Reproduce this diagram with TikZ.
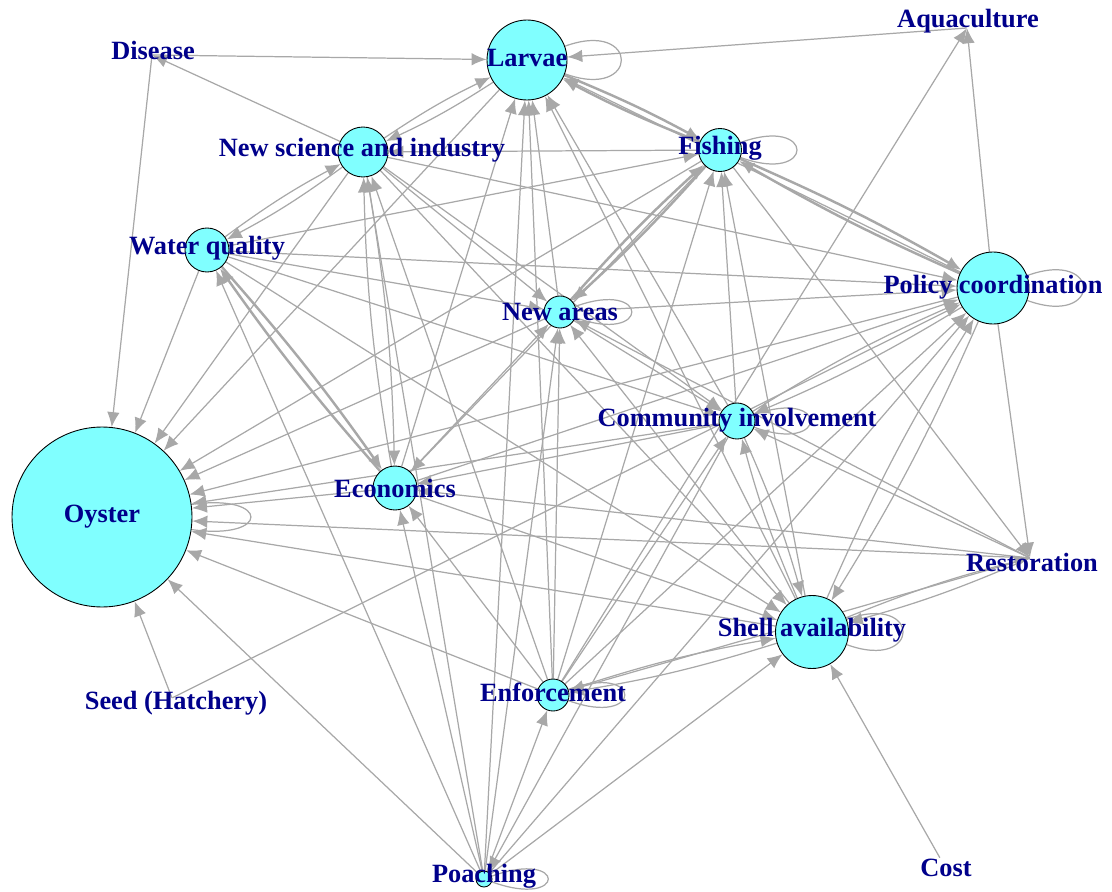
\documentclass[tikz,border=0pt]{standalone}
\usepackage{fontspec}
\setmainfont{Liberation Serif}
\usetikzlibrary{arrows.meta,backgrounds}
\definecolor{vertcyan}{RGB}{128,255,255}
\definecolor{labelblue}{RGB}{0,0,139}
\definecolor{edgegray}{RGB}{168,168,168}

\begin{document}
\begin{tikzpicture}[x=0.02cm, y=-0.02cm,
    vert/.style={circle, draw=black, line width=0.5pt, fill=vertcyan, inner sep=0pt},
    pointvert/.style={circle, inner sep=0pt, minimum size=0pt},
    lbl/.style={font=\fontsize{15}{17}\selectfont\bfseries, text=labelblue, inner sep=0pt},
    link/.style={color=edgegray, line width=0.7pt, -{Latex[length=0.3cm, width=0.25cm]}},
    thicklink/.style={link, line width=1.4pt},
    selfloop/.style={color=edgegray, line width=0.7pt, out=20, in=-20, distance=1.6cm}
]
\useasboundingbox (0,0) rectangle (1112,892);

% Vertices
\node[vert, minimum size=1.6cm] (lar) at (527,60) {};
\node[vert, minimum size=1.0cm] (nsi) at (363,152) {};
\node[vert, minimum size=0.86cm] (fis) at (720,150) {};
\node[vert, minimum size=0.88cm] (wat) at (207,250) {};
\node[vert, minimum size=1.44cm] (pol) at (993,288) {};
\node[vert, minimum size=0.64cm] (nar) at (560,312) {};
\node[vert, minimum size=0.72cm] (com) at (737,421) {};
\node[vert, minimum size=0.88cm] (eco) at (395,488) {};
\node[vert, minimum size=3.6cm] (oys) at (102,517) {};
\node[vert, minimum size=1.46cm] (she) at (812,632) {};
\node[vert, minimum size=0.64cm] (enf) at (553,695) {};
\node[vert, minimum size=0.32cm] (poa) at (484,879) {};
\node[pointvert] (dis) at (152,55) {};
\node[pointvert] (aqu) at (967,28) {};
\node[pointvert] (res) at (1030,558) {};
\node[pointvert] (see) at (172,698) {};
\node[pointvert] (cos) at (940,858) {};

\begin{scope}[on background layer]
% Disease, Aquaculture
\path[link] (dis) edge (lar) edge (oys);
\path[link] (aqu) edge (lar);
% Larvae
\path[link] (lar) edge (oys) edge[bend left=4] (nsi);
\path[thicklink] (lar) edge[bend left=3] (fis);
% New science and industry
\path[link] (nsi) edge (dis) edge (oys) edge (pol) edge (nar) edge (com) edge (she)
    edge[bend left=4] (lar) edge[bend left=4] (eco) edge[bend left=4] (wat);
% Fishing
\path[link] (fis) edge (nsi) edge (oys) edge (eco) edge (res);
\path[thicklink] (fis) edge[bend left=3] (lar) edge[bend left=3] (pol) edge[bend left=3] (nar);
% Water quality
\path[link] (wat) edge (oys) edge (fis) edge (pol) edge (nar) edge (com) edge (she)
    edge[bend left=4] (nsi);
\path[thicklink] (wat) edge[bend left=3] (eco);
% Policy coordination
\path[link] (pol) edge (aqu) edge (lar) edge (oys) edge (res)
    edge[bend left=4] (com) edge[bend left=4] (she);
\path[thicklink] (pol) edge[bend left=3] (fis);
% New areas
\path[link] (nar) edge (lar) edge (oys) edge (pol) edge (com);
\path[thicklink] (nar) edge[bend left=3] (fis);
% Community involvement
\path[link] (com) edge (lar) edge (oys) edge (fis) edge (eco) edge (poa)
    edge[bend left=4] (pol) edge[bend left=4] (she);
% Economics
\path[link] (eco) edge (lar) edge (oys) edge (pol) edge (nar) edge (she) edge[bend left=4] (nsi);
\path[thicklink] (eco) edge[bend left=3] (wat);
% Shell availability
\path[link] (she) edge (lar) edge (oys) edge (fis) edge (nar)
    edge[bend left=4] (pol) edge[bend left=4] (com) edge[bend left=4] (enf) edge[bend left=4] (res);
% Enforcement
\path[link] (enf) edge (aqu) edge (lar) edge (oys) edge (nsi) edge (fis) edge (pol) edge (nar)
    edge (com) edge (eco) edge[bend left=4] (she);
% Restoration
\path[link] (res) edge (oys) edge (nar) edge (com) edge (eco) edge (enf) edge[bend left=4] (she);
% Seed, Cost
\path[link] (see) edge (oys) edge (pol);
\path[link] (cos) edge (she);
% Poaching
\path[link] (poa) edge (oys) edge (wat) edge (eco) edge (nsi) edge (lar) edge (nar) edge (enf)
    edge (she) edge (pol);
% Self loops
\draw[selfloop] (lar) to (lar);
\draw[selfloop] (fis) to (fis);
\draw[selfloop] (pol) to (pol);
\draw[selfloop] (nar) to (nar);
\draw[selfloop] (com) to (com);
\draw[selfloop, out=8, in=-8] (oys) to (oys);
\draw[selfloop] (she) to (she);
\draw[selfloop] (enf) to (enf);
\draw[selfloop] (poa) to (poa);
\end{scope}

% Labels
\node[lbl] (lar-l) at (527,58) {Larvae};
\node[lbl] (dis-l) at (153,50) {Disease};
\node[lbl] (aqu-l) at (968,21) {Aquaculture};
\node[lbl] (nsi-l) at (362,150) {New science and industry};
\node[lbl] (fis-l) at (720,148) {Fishing};
\node[lbl] (wat-l) at (207,248) {Water quality};
\node[lbl] (pol-l) at (993,287) {Policy coordination};
\node[lbl] (nar-l) at (560,312) {New areas};
\node[lbl] (com-l) at (737,420) {Community involvement};
\node[lbl] (eco-l) at (395,488) {Economics};
\node[lbl] (oys-l) at (102,517) {Oyster};
\node[lbl] (res-l) at (1032,562) {Restoration};
\node[lbl] (she-l) at (812,630) {Shell availability};
\node[lbl] (see-l) at (176,703) {Seed (Hatchery)};
\node[lbl] (enf-l) at (553,692) {Enforcement};
\node[lbl] (poa-l) at (484,876) {Poaching};
\node[lbl] (cos-l) at (946,868) {Cost};

\end{tikzpicture}
\end{document}
